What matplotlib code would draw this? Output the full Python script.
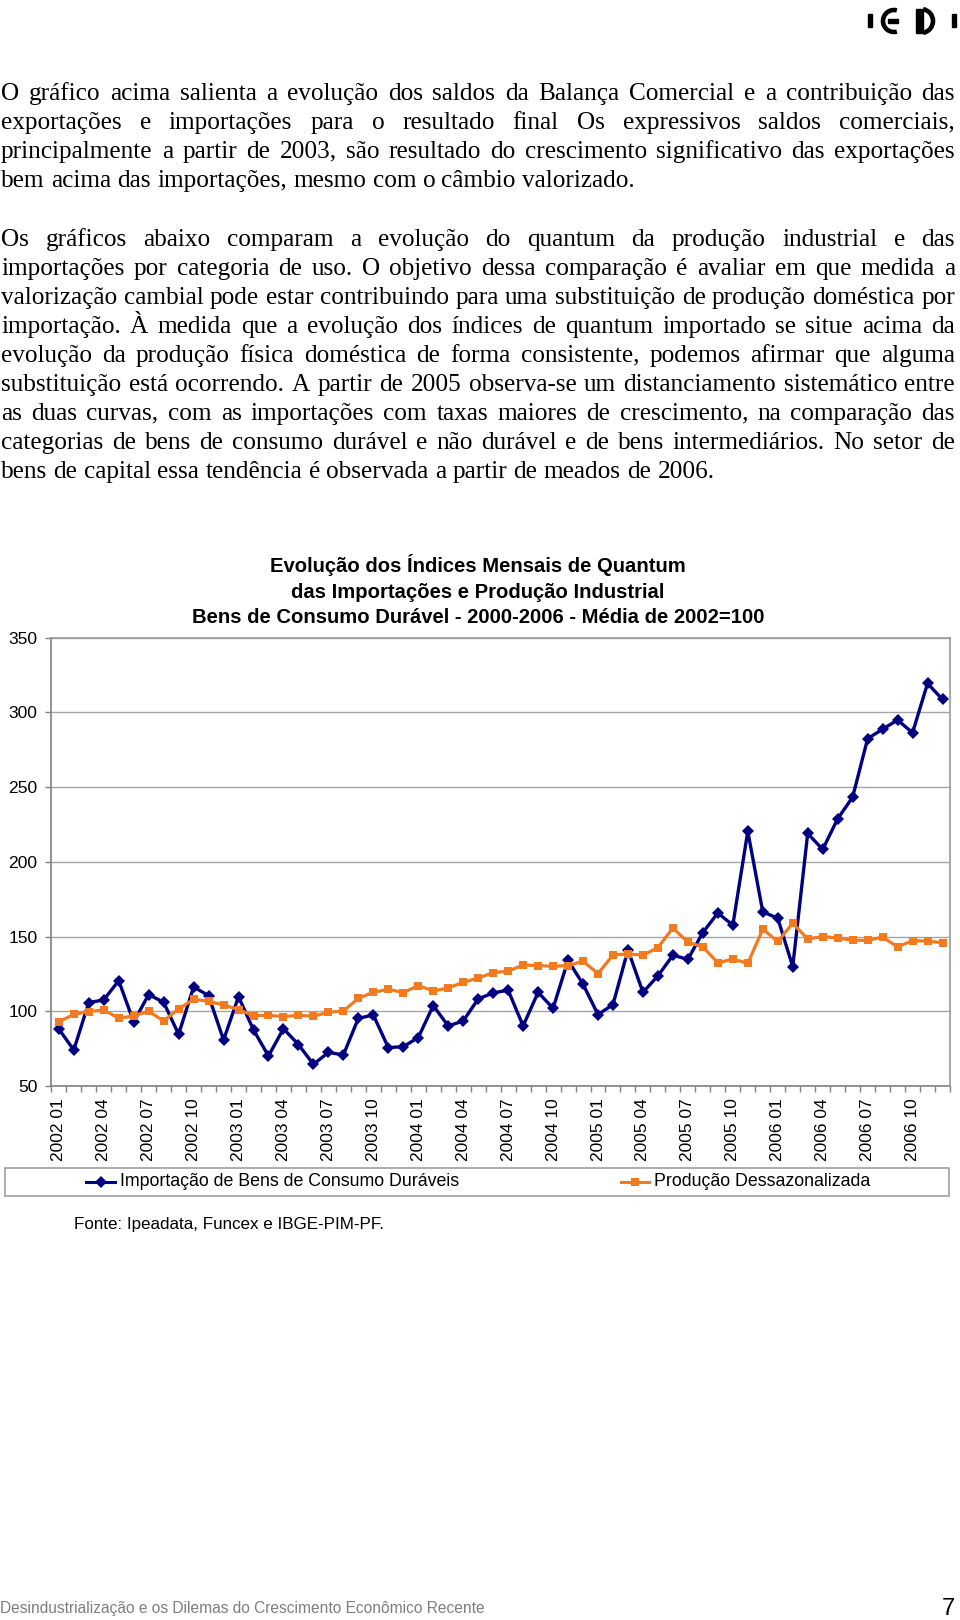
import math
import numpy as np
import matplotlib
matplotlib.use("Agg")
import matplotlib.pyplot as plt
from matplotlib.patches import Rectangle, Arc
from matplotlib.lines import Line2D
from matplotlib.font_manager import FontProperties
from matplotlib.backends.backend_agg import get_hinting_flag

W, H = 960, 1620

# --- data -----------------------------------------------------------------
periods = [f"{y} {m:02d}" for y in range(2002, 2007) for m in range(1, 13)]

importacao = [
    88.2, 74.1, 105.8, 107.6, 120.5, 92.9, 111.2, 106.0, 84.6, 116.3, 110.5, 80.8,
    109.8, 87.5, 70.1, 88.4, 77.7, 64.5, 72.5, 70.8, 95.3, 97.5, 75.7, 76.3,
    82.4, 103.8, 90.2, 93.5, 108.3, 112.3, 114.1, 90.2, 112.7, 102.0, 134.2, 118.1,
    97.8, 104.5, 141.1, 112.7, 123.7, 137.5, 134.8, 152.7, 165.8, 157.6, 220.5, 166.5,
    162.3, 129.9, 219.0, 208.3, 228.8, 243.3, 282.4, 288.8, 294.9, 286.4, 319.4, 308.7,
]

producao = [
    92.9, 98.0, 99.8, 100.9, 95.3, 96.9, 100.0, 93.5, 101.6, 108.0, 106.7, 104.2,
    101.1, 97.1, 97.3, 96.4, 97.3, 96.7, 99.3, 100.2, 108.7, 112.7, 114.7, 112.5,
    117.2, 113.6, 115.6, 119.4, 122.2, 125.9, 126.8, 131.0, 130.6, 130.1, 130.6, 133.5,
    125.2, 137.7, 138.4, 137.5, 142.6, 155.8, 146.2, 143.1, 132.4, 135.0, 132.1, 154.9,
    146.7, 158.9, 148.4, 150.0, 149.1, 147.5, 147.5, 149.6, 143.1, 147.3, 146.9, 146.0,
]

yticks = [50, 100, 150, 200, 250, 300, 350]

series_names = ["Importação de Bens de Consumo Duráveis", "Produção Dessazonalizada"]

title_lines = [
    "Evolução dos Índices Mensais de Quantum",
    "das Importações e Produção Industrial",
    "Bens de Consumo Durável - 2000-2006 - Média de 2002=100",
]

para1 = [
    "O gráfico acima salienta a evolução dos saldos da Balança Comercial e a contribuição das",
    "exportações e importações para o resultado final Os expressivos saldos comerciais,",
    "principalmente a partir de 2003, são resultado do crescimento significativo das exportações",
    "bem acima das importações, mesmo com o câmbio valorizado.",
]
para2 = [
    "Os gráficos abaixo comparam a evolução do quantum da produção industrial e das",
    "importações por categoria de uso. O objetivo dessa comparação é avaliar em que medida a",
    "valorização cambial pode estar contribuindo para uma substituição de produção doméstica por",
    "importação. À medida que a evolução dos índices de quantum importado se situe acima da",
    "evolução da produção física doméstica de forma consistente, podemos afirmar que alguma",
    "substituição está ocorrendo. A partir de 2005 observa-se um distanciamento sistemático entre",
    "as duas curvas, com as importações com taxas maiores de crescimento, na comparação das",
    "categorias de bens de consumo durável e não durável e de bens intermediários. No setor de",
    "bens de capital essa tendência é observada a partir de meados de 2006.",
]

SERIF = "Liberation Serif"
SANS = "Liberation Sans"
NAVY = "#000080"
ORANGE = "#F47A20"
GRID = "#A6A6A6"
AXIS = "#808080"

fig = plt.figure(figsize=(W / 100, H / 100), dpi=100)
fig.patch.set_facecolor("white")

# page layer in pixel coordinates (y downwards)
page = fig.add_axes([0, 0, 1, 1], zorder=0)
page.set_xlim(0, W)
page.set_ylim(H, 0)
page.axis("off")

renderer = fig.canvas.get_renderer()


def text_width(s, size, family):
    t = page.text(0, 0, s, fontsize=size, family=family)
    w = t.get_window_extent(renderer).width
    t.remove()
    return w


def snapped_baseline(word, size, target):
    # Agg places each text bitmap by its own descent, so words drawn one by one
    # can land a pixel apart; pick a y that puts every baseline on `target`.
    try:
        font = renderer._prepare_font(FontProperties(family=SERIF, size=size))
        font.set_text(word, 0.0, flags=get_hinting_flag())
        w, h = font.get_width_height()
        d = font.get_descent() / 64.0
        ymax = h / 64.0 - d
        k = target + math.floor(ymax + d) - math.floor(ymax)
        return k - d
    except Exception:
        return target


def justified(lines, y0, step, size=18.15, left=1, right=955):
    space = text_width("a a", size, SERIF) - text_width("aa", size, SERIF)
    for k, line in enumerate(lines):
        y = y0 + k * step
        words = line.split()
        texts = [page.text(0, snapped_baseline(w, size, y), w, fontsize=size,
                           family=SERIF, va="baseline") for w in words]
        widths = [t.get_window_extent(renderer).width for t in texts]
        if k == len(lines) - 1:
            gap = space
        else:
            gap = (right - left - sum(widths)) / (len(words) - 1)
        x = left
        for t, w in zip(texts, widths):
            t.set_x(x)
            x += w + gap


justified(para1, 100, 29)
justified(para2, 246, 29)

# logo
page.add_patch(Rectangle((868, 14), 4.4, 13, color="black"))
page.add_patch(Rectangle((951.6, 14), 4.4, 13, color="black"))
page.add_patch(Arc((894, 21), 22, 22, theta1=75, theta2=285, lw=3.3, color="black"))
page.add_patch(Rectangle((887.8, 19), 10.5, 4, color="black"))
page.add_patch(Rectangle((916.4, 9), 6.2, 24, color="black"))
page.add_patch(Arc((921, 21), 24, 24, theta1=-80, theta2=80, lw=3.3, color="black"))

# chart title
for k, line in enumerate(title_lines):
    page.text(478, 572 + k * 25.5, line, ha="center", va="baseline",
              fontsize=14.6, fontweight="bold", family=SANS)

# --- chart ---------------------------------------------------------------
left, right, top, bottom = 51.3, 950, 637.7, 1086
ax = fig.add_axes([left / W, 1 - bottom / H, (right - left) / W, (bottom - top) / H],
                  zorder=2)
ax.patch.set_alpha(0)
x = np.arange(len(periods))
l1, = ax.plot(x, importacao, color=NAVY, lw=2.4, marker="D", ms=6.3,
              markeredgewidth=0, zorder=3)
l2, = ax.plot(x, producao, color=ORANGE, lw=2.3, marker="s", ms=5.8,
              markeredgewidth=0, zorder=4)

ax.set_xlim(-0.5, len(periods) - 0.5)
ax.set_ylim(yticks[0], yticks[-1])
ax.set_yticks(yticks)
ax.yaxis.grid(True, color=GRID, lw=1.0)
ax.set_axisbelow(True)
for lab in ax.get_yticklabels():
    lab.set_family(SANS)
ax.tick_params(axis="y", length=4, color=AXIS, width=1, pad=6, labelsize=12.6)

ax.set_xticks(x[::3])
ax.set_xticklabels(periods[::3], rotation=90, fontsize=12.5, family=SANS)
ax.set_xticks(np.arange(-0.5, len(periods), 1), minor=True)
ax.tick_params(axis="x", which="major", length=0, pad=9)
ax.tick_params(axis="x", which="minor", length=4.5, color=AXIS, width=1, direction="out")

for name in ("left", "bottom"):
    ax.spines[name].set_color(AXIS)
    ax.spines[name].set_linewidth(1.2)
for name in ("top", "right"):
    ax.spines[name].set_color("#9A9A9A")
    ax.spines[name].set_linewidth(1.2)

# legend
page.add_patch(Rectangle((5, 1168), 944, 28, fill=False, edgecolor="#A0A0A0", lw=1.2))
for (x0, x1), line, name in zip([(86, 115), (621, 649)], [l1, l2], series_names):
    xm = (x0 + x1) / 2
    page.add_line(Line2D([x0, xm, x1], [1182, 1182, 1182], color=line.get_color(),
                         lw=2.2, marker=line.get_marker(), ms=line.get_markersize(),
                         markeredgewidth=0, markevery=[1]))
    page.text(x1 + 5, 1182, name, va="center", fontsize=12.8, family=SANS)

page.text(74, 1225, "Fonte: Ipeadata, Funcex e IBGE-PIM-PF.", va="center",
          fontsize=12.25, family=SANS)

# footer
page.text(0, 1609, "Desindustrialização e os Dilemas do Crescimento Econômico Recente",
          va="center", fontsize=11.2, family=SANS, color="#7F7F7F")
page.text(955, 1609, "7", ha="right", va="center", fontsize=17, family=SANS)

fig.savefig("out.png", dpi=100, facecolor="white")
plt.close(fig)
